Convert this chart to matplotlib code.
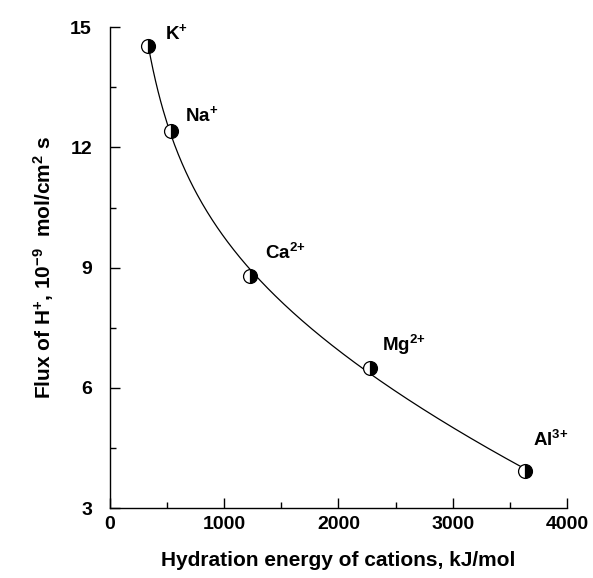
import numpy as np
import matplotlib
matplotlib.use("Agg")
from matplotlib import pyplot as plt

plt.rcParams['font.family'] = ['Liberation Sans', 'DejaVu Sans']
plt.rcParams['font.weight'] = 'bold'
plt.rcParams['mathtext.fontset'] = 'custom'
plt.rcParams['mathtext.rm'] = 'Liberation Sans:bold'
plt.rcParams['mathtext.it'] = 'Liberation Sans:bold'
plt.rcParams['mathtext.bf'] = 'Liberation Sans:bold'

# data
iyonlar = ['K$^{{+}}$', 'Na$^{{+}}$', 'Ca$^{2{+}}$', 'Mg$^{2{+}}$', 'Al$^{3{+}}$']
enerji = [333, 535, 1228, 2276, 3632]
aki = [14.53, 12.41, 8.79, 6.50, 3.93]
etiket_x = [481, 656, 1357, 2381, 3703]
etiket_y = [14.85, 12.8, 9.36, 7.07, 4.70]

fig = plt.figure(figsize=(5.93, 5.78), dpi=100)
ax = fig.add_axes([0.1855, 0.121, 0.7705, 0.832])

# smooth curve through the points (cubic in log x)
katsayi = np.polyfit(np.log(enerji), aki, 3)
xx = np.linspace(enerji[0], enerji[-1], 300)
ax.plot(xx, np.polyval(katsayi, np.log(xx)), color='black', lw=0.9)

ax.plot(enerji, aki, linestyle='none', marker='o', markersize=10,
        fillstyle='right', markerfacecolor='black', markerfacecoloralt='white',
        markeredgecolor='black', markeredgewidth=0.9)

for t, x, y in zip(iyonlar, etiket_x, etiket_y):
    ax.text(x, y, t, fontsize=13.5, fontweight='bold', va='center', ha='left')

ax.set_xlim(0, 4000)
ax.set_ylim(3, 15)
ax.set_xticks([0, 1000, 2000, 3000, 4000])
ax.set_xticks(np.arange(500, 4000, 1000), minor=True)
ax.set_yticks([3, 6, 9, 12, 15])
ax.set_yticks(np.arange(4.5, 15, 3), minor=True)
ax.tick_params(which='both', direction='in', labelsize=14, width=1)
ax.tick_params(which='major', length=7)
ax.tick_params(which='minor', length=4)
ax.tick_params(axis='x', pad=6)
ax.tick_params(axis='y', pad=13)
for lbl in ax.get_xticklabels() + ax.get_yticklabels():
    lbl.set_fontweight('bold')

ax.spines['top'].set_visible(False)
ax.spines['right'].set_visible(False)
ax.spines['left'].set_linewidth(1)
ax.spines['bottom'].set_linewidth(1)

ax.set_xlabel('Hydration energy of cations, kJ/mol', fontsize=15, fontweight='bold', labelpad=13)
ax.set_ylabel('Flux of H$^{{+}}$, 10$^{-9}$  mol/cm$^{2}$ s', fontsize=15, fontweight='bold', labelpad=10)

fig.savefig('out.png', dpi=100)
